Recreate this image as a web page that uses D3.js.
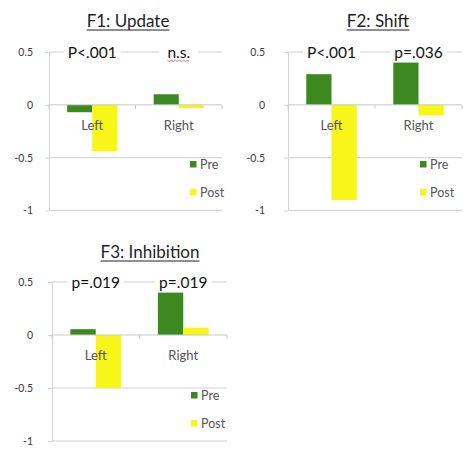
<!DOCTYPE html>
<html>
<head>
<meta charset="utf-8">
<script src="https://cdn.jsdelivr.net/npm/d3@7"></script>
<style>
  html, body { margin: 0; padding: 0; background: #fff; }
  svg { display: block; }
  text { font-family: Lato, "Open Sans", sans-serif; }
</style>
</head>
<body>
<svg id="chart" width="466" height="451"></svg>
<script>
// Pre/Post factor scores for each hemisphere, one panel per factor
const categories = ["Left", "Right"];
const seriesNames = ["Pre", "Post"];
const panelTitles = ["F1: Update", "F2: Shift", "F3: Inhibition"];
const preValues = [[-0.07, 0.10], [0.29, 0.40], [0.055, 0.40]];
const postValues = [[-0.44, -0.03], [-0.90, -0.10], [-0.50, 0.07]];
const pLabels = [["P<.001", "n.s."], ["P<.001", "p=.036"], ["p=.019", "p=.019"]];
const yTicks = [0.5, 0, -0.5, -1];
const yDomain = [-1, 0.5];

const colors = { Pre: "#3c8a1f", Post: "#f8f519" };

// placement of each panel on the page
const layout = [
  { x0: 49, x1: 222, yTop: 52, yBot: 210.5, pad: 12, titleX: 128, titleY: 27, legX: 190, legY: 164 },
  { x0: 288, x1: 462, yTop: 52, yBot: 210.5, pad: 19, titleX: 378, titleY: 27, legX: 420, legY: 164 },
  { x0: 52, x1: 227, yTop: 282, yBot: 441, pad: 15, titleX: 150, titleY: 258, legX: 191, legY: 395 }
];

const svg = d3.select("#chart");

panelTitles.forEach((title, i) => {
  const L = layout[i];
  const g = svg.append("g");

  const y = d3.scaleLinear().domain(yDomain).range([L.yBot, L.yTop]);
  const x = d3.scaleBand().domain(categories).range([L.x0, L.x1])
    .paddingInner(0.42).paddingOuter(0.21);
  const xs = d3.scaleBand().domain(seriesNames).range([0, x.bandwidth()]);

  // horizontal gridlines
  g.selectAll("line.grid").data(yTicks.filter(t => t !== 0)).join("line")
    .attr("x1", L.x0).attr("x2", L.x1)
    .attr("y1", d => y(d)).attr("y2", d => y(d))
    .attr("stroke", "#d0d0d0").attr("stroke-width", 1);

  // value axis
  const yAxis = g.append("g")
    .attr("transform", `translate(${L.x0},0)`)
    .call(d3.axisLeft(y).tickValues(yTicks).tickFormat(d => String(d))
      .tickSize(4).tickSizeOuter(0).tickPadding(L.pad));
  yAxis.select(".domain").attr("stroke", "#d4d4d4");
  yAxis.selectAll(".tick line").attr("stroke", "#d4d4d4");
  yAxis.selectAll(".tick text").attr("fill", "#3a3a3a")
    .style("font-size", "10.5px").style("font-family", "Lato, sans-serif");

  // bars
  const rows = categories.map((c, j) => ({ cat: c, Pre: preValues[i][j], Post: postValues[i][j] }));
  g.selectAll("g.grp").data(rows).join("g")
    .attr("transform", d => `translate(${x(d.cat)},0)`)
    .selectAll("rect").data(d => seriesNames.map(s => ({ s, v: d[s] }))).join("rect")
    .attr("x", d => xs(d.s))
    .attr("width", xs.bandwidth())
    .attr("y", d => y(Math.max(0, d.v)))
    .attr("height", d => Math.abs(y(d.v) - y(0)))
    .attr("fill", d => colors[d.s]);

  // zero baseline with category ticks
  g.append("line")
    .attr("x1", L.x0).attr("x2", L.x1)
    .attr("y1", y(0)).attr("y2", y(0))
    .attr("stroke", "#c8c8c8");
  const step = x.step();
  const edges = [L.x0, L.x0 + step, L.x1];
  g.selectAll("line.ctick").data(edges).join("line")
    .attr("x1", d => d).attr("x2", d => d)
    .attr("y1", y(0)).attr("y2", y(0) + 4)
    .attr("stroke", "#c8c8c8");

  // category labels
  g.selectAll("text.cat").data(categories).join("text")
    .attr("x", d => x(d) + x.bandwidth() / 2)
    .attr("y", y(0) + 25)
    .attr("text-anchor", "middle")
    .attr("fill", "#555")
    .style("font-size", "13px")
    .text(d => d);

  // significance labels sitting on the top gridline
  categories.forEach((c, j) => {
    const cx = x(c) + x.bandwidth() / 2;
    const t = g.append("text")
      .attr("x", cx).attr("y", y(0.5) + 5.5)
      .attr("text-anchor", "middle")
      .attr("fill", "#111")
      .style("font-size", "15.5px")
      .text(pLabels[i][j]);
    const bb = t.node().getBBox();
    const padX = pLabels[i][j] === "n.s." ? 8 : 4;
    g.insert("rect", () => t.node())
      .attr("x", bb.x - padX).attr("y", bb.y)
      .attr("width", bb.width + padX * 2).attr("height", bb.height)
      .attr("fill", "#fff");
    if (pLabels[i][j] === "n.s.") {
      // spell-check squiggle under the abbreviation
      const yy = y(0.5) + 8.5;
      const pts = d3.range(bb.x, bb.x + bb.width + 0.1, 2).map((px, k) => [px, yy + (k % 2 ? 1 : -0.2)]);
      g.append("path")
        .attr("d", d3.line()(pts))
        .attr("fill", "none").attr("stroke", "#e05050").attr("stroke-width", 0.8);
    }
  });

  // legend
  seriesNames.forEach((s, k) => {
    const ly = L.legY + k * 28;
    g.append("rect")
      .attr("x", L.legX).attr("y", ly - 3)
      .attr("width", 6.5).attr("height", 6.5)
      .attr("fill", colors[s]);
    g.append("text")
      .attr("x", L.legX + 10).attr("y", ly + 4.5)
      .attr("fill", "#555")
      .style("font-size", "12.5px")
      .text(s);
  });

  // underlined panel title
  const tt = g.append("text")
    .attr("x", L.titleX).attr("y", L.titleY)
    .attr("text-anchor", "middle")
    .attr("fill", "#1e1e28")
    .style("font-size", "17px")
    .text(title);
  const tb = tt.node().getBBox();
  g.append("line")
    .attr("x1", tb.x).attr("x2", tb.x + tb.width)
    .attr("y1", L.titleY + 3).attr("y2", L.titleY + 3)
    .attr("stroke", "#1e1e28").attr("stroke-width", 1);
});
</script>
</body>
</html>
